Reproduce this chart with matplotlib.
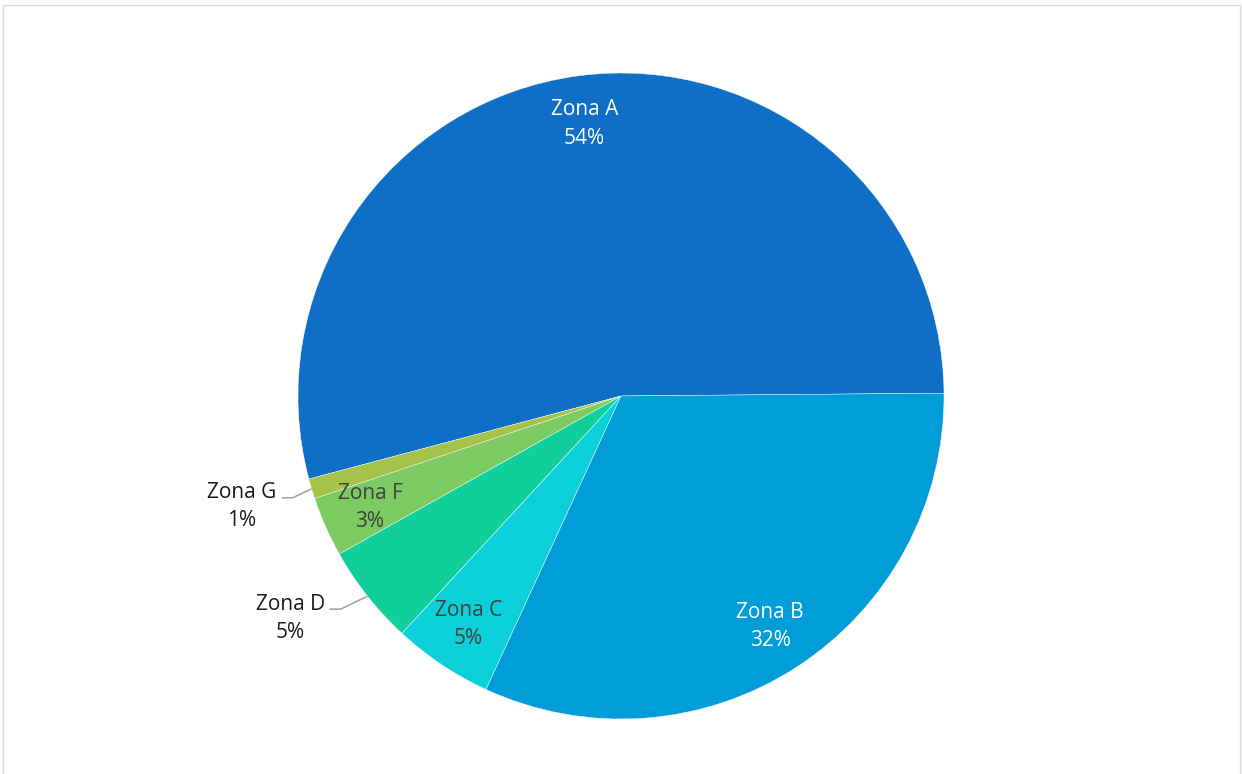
import numpy as np
import matplotlib.pyplot as plt
from matplotlib.patches import Rectangle

# data, in drawing order (counter-clockwise from 3 o'clock)
zones = ["Zona A", "Zona G", "Zona F", "Zona D", "Zona C", "Zona B"]
shares = [54, 1, 3, 5, 5, 32]
colors = ["#0F6FC6", "#A5C249", "#7CCA62", "#10CF9B", "#0BD0D9", "#009DD9"]

W, H = 1242, 774
cx, cy, R = 621, H - 396, 323

fig = plt.figure(figsize=(W / 100, H / 100), dpi=100)
ax = fig.add_axes([0, 0, 1, 1])
plt.rcParams["font.family"] = ["Open Sans", "DejaVu Sans"]

wedges, _ = ax.pie(
    shares,
    colors=colors,
    startangle=0.5,
    counterclock=True,
    center=(cx, cy),
    radius=R,
    wedgeprops=dict(edgecolor="white", linewidth=0.3),
)

fs = 15
ls = 1.45
inside_color = {"Zona A": "white", "Zona B": "white",
                "Zona C": "#404040", "Zona F": "#404040"}
# outside labels: (elbow dx, elbow dy, line length, text gap) in pixels
outside = {"Zona D": (-27, -13, 11, 39), "Zona G": (-19, -9, 11, 40)}

for w, name, v in zip(wedges, zones, shares):
    mid = np.deg2rad((w.theta1 + w.theta2) / 2)
    label = f"{name}\n{v:.0f}%"
    if name in outside:
        ex, ey, ln, gap = outside[name]
        px, py = cx + R * np.cos(mid), cy + R * np.sin(mid)
        bx, by = px + ex, py + ey
        ax.plot([px, bx, bx - ln], [py, by, by], color="#A6A6A6", lw=1.2,
                solid_capstyle="butt")
        ax.text(bx - ln - gap, by - 9, label, ha="center", va="center",
                fontsize=fs, color="#1a1a1a", linespacing=ls)
    else:
        r = 0.85 * R
        ax.text(cx + r * np.cos(mid), cy + r * np.sin(mid), label,
                ha="center", va="center", fontsize=fs,
                color=inside_color[name], linespacing=ls)

ax.add_patch(Rectangle((2.5, -5), W - 5, H - 4.5 + 5, fill=False,
                       edgecolor="#D9D9D9", lw=1))

ax.set_xlim(0, W)
ax.set_ylim(0, H)
ax.set_aspect("equal")
ax.axis("off")

fig.savefig("out.png", dpi=100, facecolor="white")
